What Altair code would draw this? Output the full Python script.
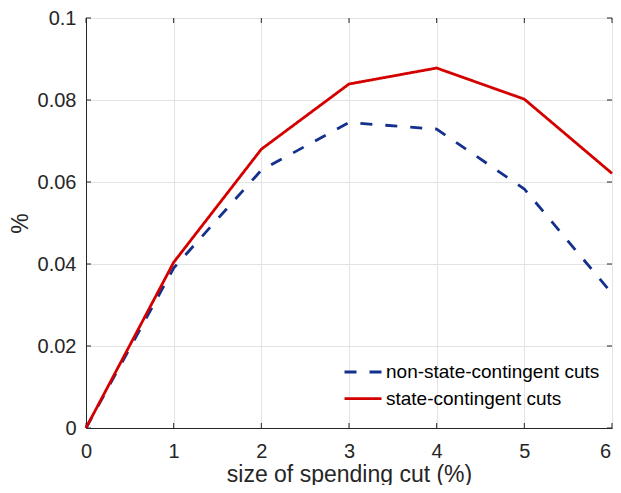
import altair as alt
import pandas as pd

# ---- data ----
cut_size = [0, 1, 2, 3, 4, 5, 6]
non_state = [0.0, 0.0390, 0.0629, 0.0745, 0.0729, 0.0583, 0.0328]
state = [0.0, 0.0404, 0.0680, 0.0839, 0.0878, 0.0802, 0.0621]
series_names = ["non-state-contingent cuts", "state-contingent cuts"]
series_colors = ["#13308c", "#d40000"]
x_ticks = [0, 1, 2, 3, 4, 5, 6]
y_ticks = [0, 0.02, 0.04, 0.06, 0.08, 0.1]

rows = []
for name, vals in zip(series_names, [non_state, state]):
    for x, y in zip(cut_size, vals):
        rows.append({"x": x, "y": y, "series": name})
df = pd.DataFrame(rows)
xt = pd.DataFrame({"x": x_ticks})
yt = pd.DataFrame({"y": y_ticks})

W, H = 526, 410
FONT = "Liberation Sans"
DARK = "#262626"

x_scale = alt.Scale(domain=[0, 6], nice=False, zero=False)
y_scale = alt.Scale(domain=[0, 0.1], nice=False, zero=False)

x_axis = alt.Axis(values=x_ticks, format="d", title="size of spending cut (%)",
                  labelFlush=False, labelPadding=13, ticks=False,
                  labelOffset={"condition": {"test": "datum.value == 6", "value": -7}, "value": 0},
                  titleY=53, titleBaseline="alphabetic")
y_axis = alt.Axis(values=y_ticks, format="~g", title="%",
                  labelFlush=False, labelPadding=10, ticks=False,
                  titleX=-66, titleY=H / 2, titleAngle=270,
                  titleAlign="center", titleBaseline="middle")

lines = alt.Chart(df).mark_line(strokeWidth=2.8, strokeCap="butt", strokeJoin="miter").encode(
    x=alt.X("x:Q", scale=x_scale, axis=x_axis),
    y=alt.Y("y:Q", scale=y_scale, axis=y_axis),
    color=alt.Color("series:N",
                    scale=alt.Scale(domain=series_names, range=series_colors),
                    legend=alt.Legend(title=None, orient="none", legendX=257, legendY=341,
                                      symbolType="stroke", symbolSize=1369,
                                      symbolStrokeWidth=2.8, clipHeight=26, rowPadding=0.7,
                                      labelFontSize=19, labelFont=FONT, labelColor="#000000",
                                      labelOffset=3, padding=0, symbolOffset=0,
                                      labelLimit=400)),
    strokeDash=alt.StrokeDash("series:N",
                              scale=alt.Scale(domain=series_names, range=[[12, 13], [1, 0]]),
                              legend=None),
)

tick_style = dict(color=DARK, strokeWidth=1)
xb = alt.Chart(xt).mark_rule(**tick_style).encode(
    x=alt.X("x:Q", scale=x_scale, axis=x_axis), y=alt.value(H), y2=alt.value(H - 5))
xtop = alt.Chart(xt).mark_rule(**tick_style).encode(
    x=alt.X("x:Q", scale=x_scale, axis=x_axis), y=alt.value(0), y2=alt.value(5))
yl = alt.Chart(yt).mark_rule(**tick_style).encode(
    y=alt.Y("y:Q", scale=y_scale, axis=y_axis), x=alt.value(0), x2=alt.value(5))
yr = alt.Chart(yt).mark_rule(**tick_style).encode(
    y=alt.Y("y:Q", scale=y_scale, axis=y_axis), x=alt.value(W), x2=alt.value(W - 5))

chart = alt.layer(xb, xtop, yl, yr, lines).properties(
    width=W, height=H, background="white",
    autosize=alt.AutoSizeParams(type="none"),
    padding={"left": 78, "top": 10, "right": 1, "bottom": 57},
).configure_view(
    stroke=DARK, strokeWidth=1
).configure_axis(
    labelFont=FONT, titleFont=FONT, labelFontSize=20, titleFontSize=23,
    titleFontWeight="normal", labelColor=DARK, titleColor=DARK,
    domainColor=DARK, domainWidth=1, gridColor="#e3e3e3", gridWidth=1,
)

chart.save("out.html", embed_options={"renderer": "svg", "actions": False})
